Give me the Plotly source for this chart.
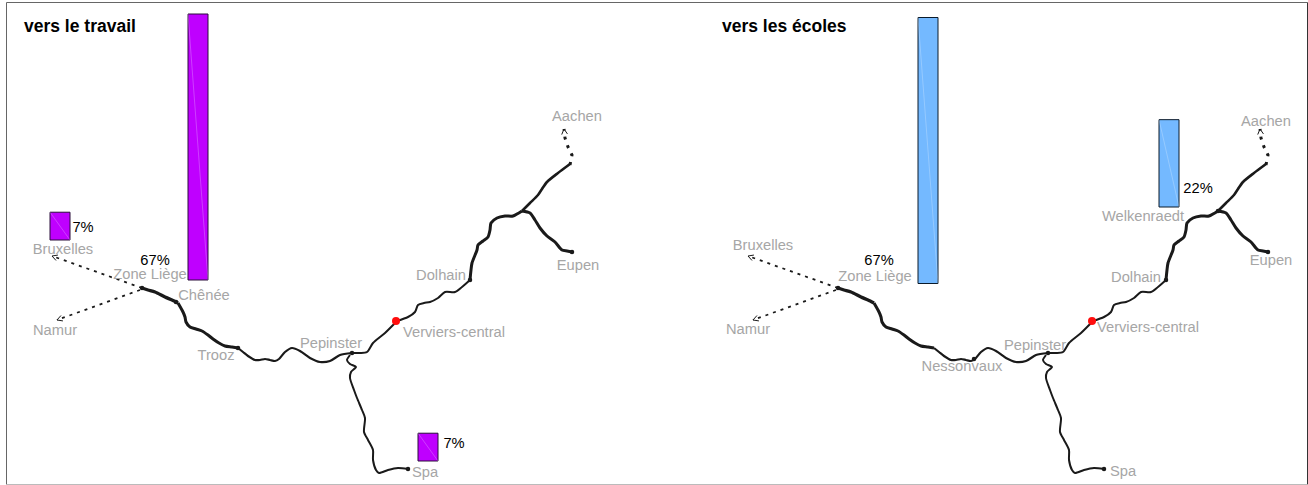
import math
import plotly.graph_objects as go

# Route geometry, in left-panel coordinates
liege_chenee_x = [142, 148, 155, 165, 172, 178]
liege_chenee_y = [288, 290, 292, 297, 300, 303]
chenee_trooz_x = [178, 183, 185, 186, 190, 196, 202, 208, 213, 219, 225, 232, 238]
chenee_trooz_y = [303, 312, 317, 322, 327, 329, 331, 335, 339, 343, 346, 347, 348]
trooz_pep_x = [238, 243, 248, 255, 260, 265, 270, 275, 279, 285, 292, 300, 310, 320, 330, 340, 352]
trooz_pep_y = [348, 352, 356, 360, 360, 359, 360, 361, 359, 352, 348, 351, 358, 362, 361, 355, 353]
pep_verv_x = [352, 360, 367, 373, 385, 397]
pep_verv_y = [353, 353, 352, 343, 333, 321]
verv_dol_x = [397, 408, 415, 418, 424, 430, 438, 445, 455, 462, 470]
verv_dol_y = [321, 317, 312, 305, 303, 302, 298, 292, 292, 287, 280]
dol_welk_x = [470, 471, 472, 477, 478, 483, 488, 490, 491, 497, 505, 513, 522]
dol_welk_y = [280, 270, 263, 250, 245, 241, 237, 230, 223, 218, 216, 216, 211]
welk_aachen_x = [522, 530, 538, 542, 547, 558, 570]
welk_aachen_y = [211, 203, 195, 189, 182, 173, 164]
welk_eupen_x = [522, 530, 535, 540, 547, 555, 562, 567, 572]
welk_eupen_y = [211, 213, 220, 228, 236, 242, 250, 251, 252]
pep_spa_x = [350, 347, 350, 356, 351, 350, 354, 357, 362, 365, 364, 368, 373, 373, 376, 379, 388, 398, 408]
pep_spa_y = [355, 360, 364, 367, 372, 378, 390, 398, 410, 418, 432, 440, 450, 460, 470, 473, 470, 468, 469]
aachen_ext_x = [570, 572, 568, 565, 564]
aachen_ext_y = [165, 155, 147, 138, 129]
brux_ext_x = [142, 52]
brux_ext_y = [288, 256]
namur_ext_x = [140, 57]
namur_ext_y = [290, 320]

segments = [
    (liege_chenee_x, liege_chenee_y, 3.4),
    (chenee_trooz_x, chenee_trooz_y, 3.0),
    (trooz_pep_x, trooz_pep_y, 2.2),
    (pep_verv_x, pep_verv_y, 2.0),
    (verv_dol_x, verv_dol_y, 2.0),
    (dol_welk_x, dol_welk_y, 3.0),
    (welk_aachen_x, welk_aachen_y, 2.6),
    (welk_eupen_x, welk_eupen_y, 3.0),
    (pep_spa_x, pep_spa_y, 2.0),
]
dashed = [
    (aachen_ext_x, aachen_ext_y, 3.0, "3px,6px"),
    (brux_ext_x, brux_ext_y, 1.8, "3px,5px"),
    (namur_ext_x, namur_ext_y, 1.8, "3px,5px"),
]

stops_x = [142, 352, 470, 572, 408]
stops_y = [288, 353, 280, 252, 469]
stops_left_x = [176, 238]
stops_left_y = [302, 348]
stops_right_x = [278, 522]
stops_right_y = [359, 211]
central_x = [396]
central_y = [321]

left_labels = ["Bruxelles", "Zone Liège", "Chênée", "Namur", "Trooz", "Pepinster",
               "Verviers-central", "Dolhain", "Eupen", "Aachen", "Spa"]
left_label_x = [63, 150, 204, 55, 216, 331, 454, 441, 578, 577, 425]
left_label_y = [250, 275, 296, 331, 356, 344, 333, 276, 266, 117, 473]
right_labels = ["Bruxelles", "Zone Liège", "Namur", "Nessonvaux", "Pepinster",
                "Verviers-central", "Dolhain", "Welkenraedt", "Eupen", "Aachen", "Spa"]
right_label_x = [67, 179, 52, 266, 339, 452, 440, 447, 575, 570, 427]
right_label_y = [246, 277, 330, 367, 346, 328, 278, 217, 261, 122, 472]

left_pct = [7, 67, 7]
left_bar_x = [60, 198, 428]
left_bar_base = [240, 280, 461]
left_pct_x = [83, 155, 454]
left_pct_y = [228, 261, 444]
right_pct = [67, 22]
right_bar_x = [232, 473]
right_bar_base = [283.5, 207]
right_pct_x = [183, 502]
right_pct_y = [261, 189]

PX_PER_PCT = 3.97
BAR_W = 20
INK = "#1a1a1a"
GREY = "#a6a6a6"
FONT = "Liberation Sans, Arial, sans-serif"

fig = go.Figure()


def barbs(sx, sy, length=6.0, spread=0.5):
    """Open arrow head at the end of a line, built from the last two points."""
    ang = math.atan2(sy[-2] - sy[-1], sx[-2] - sx[-1])
    xs = [sx[-1] + length * math.cos(ang + spread), sx[-1], sx[-1] + length * math.cos(ang - spread)]
    ys = [sy[-1] + length * math.sin(ang + spread), sy[-1], sy[-1] + length * math.sin(ang - spread)]
    return xs, ys


def panel(xa, labels, lx, ly, pct, bx, bb, px, py, colour, edge, extra_x, extra_y):
    ya = "y"
    for sx, sy, w in segments:
        fig.add_trace(go.Scatter(x=sx, y=sy, mode="lines", xaxis=xa, yaxis=ya,
                                 line=dict(color=INK, width=w, shape="spline", smoothing=0.7),
                                 hoverinfo="skip"))
    for sx, sy, w, d in dashed:
        fig.add_trace(go.Scatter(x=sx, y=sy, mode="lines", xaxis=xa, yaxis=ya,
                                 line=dict(color=INK, width=w, dash=d), hoverinfo="skip"))
        hx, hy = barbs(sx, sy)
        fig.add_trace(go.Scatter(x=hx, y=hy, mode="lines", xaxis=xa, yaxis=ya,
                                 line=dict(color=INK, width=1), hoverinfo="skip"))
    fig.add_trace(go.Scatter(x=stops_x + extra_x, y=stops_y + extra_y, mode="markers", xaxis=xa, yaxis=ya,
                             marker=dict(color=INK, size=4.5), hoverinfo="skip"))
    fig.add_trace(go.Scatter(x=central_x, y=central_y, mode="markers", xaxis=xa, yaxis=ya,
                             marker=dict(color="#ff0d0d", size=8), hoverinfo="skip"))
    fig.add_trace(go.Bar(x=bx, y=[-p * PX_PER_PCT for p in pct], base=bb, width=BAR_W, xaxis=xa, yaxis=ya,
                         marker=dict(color=colour, line=dict(color=edge, width=1)), hoverinfo="skip"))
    for x, b, p in zip(bx, bb, pct):
        fig.add_trace(go.Scatter(x=[x - BAR_W / 2, x + BAR_W / 2], y=[b - p * PX_PER_PCT, b], mode="lines",
                                 xaxis=xa, yaxis=ya, line=dict(color="rgba(255,255,255,0.3)", width=0.8),
                                 hoverinfo="skip"))
    fig.add_trace(go.Scatter(x=lx, y=ly, text=labels, mode="text", xaxis=xa, yaxis=ya,
                             textfont=dict(color=GREY, size=14.7, family=FONT), hoverinfo="skip"))
    fig.add_trace(go.Scatter(x=px, y=py, text=[f"{p}%" for p in pct], mode="text", xaxis=xa, yaxis=ya,
                             textfont=dict(color="#000000", size=14.7, family=FONT), hoverinfo="skip"))


panel("x", left_labels, left_label_x, left_label_y, left_pct, left_bar_x, left_bar_base,
      left_pct_x, left_pct_y, "#bf00ff", "#2a0f3a", stops_left_x, stops_left_y)
panel("x2", right_labels, right_label_x, right_label_y, right_pct, right_bar_x, right_bar_base,
      right_pct_x, right_pct_y, "#74b9ff", "#0a1a2a", stops_right_x, stops_right_y)


def edge(x0, y0, x1, y1, colour):
    return dict(type="line", xref="paper", yref="paper", x0=x0 / 1308, x1=x1 / 1308,
                y0=1 - y0 / 485, y1=1 - y1 / 485, line=dict(color=colour, width=1))


hidden = dict(visible=False, fixedrange=True)
fig.update_layout(
    width=1308, height=485, margin=dict(l=0, r=0, t=0, b=0), autosize=False,
    paper_bgcolor="white", plot_bgcolor="white", showlegend=False, barmode="overlay",
    xaxis=dict(domain=[0, 0.5], range=[0, 654], **hidden),
    xaxis2=dict(domain=[0.5, 1], range=[-42, 612], anchor="y", **hidden),
    yaxis=dict(domain=[0, 1], range=[485, 0], **hidden),
    shapes=[
        edge(6.5, 2.5, 1307.5, 2.5, "#666666"),
        edge(6.5, 2.5, 6.5, 484.5, "#666666"),
        edge(1307.5, 2.5, 1307.5, 484.5, "#333333"),
        edge(6.5, 484.5, 1307.5, 484.5, "#bbbbbb"),
    ],
    annotations=[
        dict(text="<b>vers le travail</b>", xref="paper", yref="paper", x=21.5 / 1308, y=1 - 26 / 485,
             xanchor="left", yanchor="middle", showarrow=False, font=dict(size=17.5, family=FONT, color="black")),
        dict(text="<b>vers les écoles</b>", xref="paper", yref="paper", x=719.5 / 1308, y=1 - 26 / 485,
             xanchor="left", yanchor="middle", showarrow=False, font=dict(size=17.5, family=FONT, color="black")),
    ],
)
fig.write_html("out.html", config={"displayModeBar": False},
               post_script="document.body.style.margin='0';")
